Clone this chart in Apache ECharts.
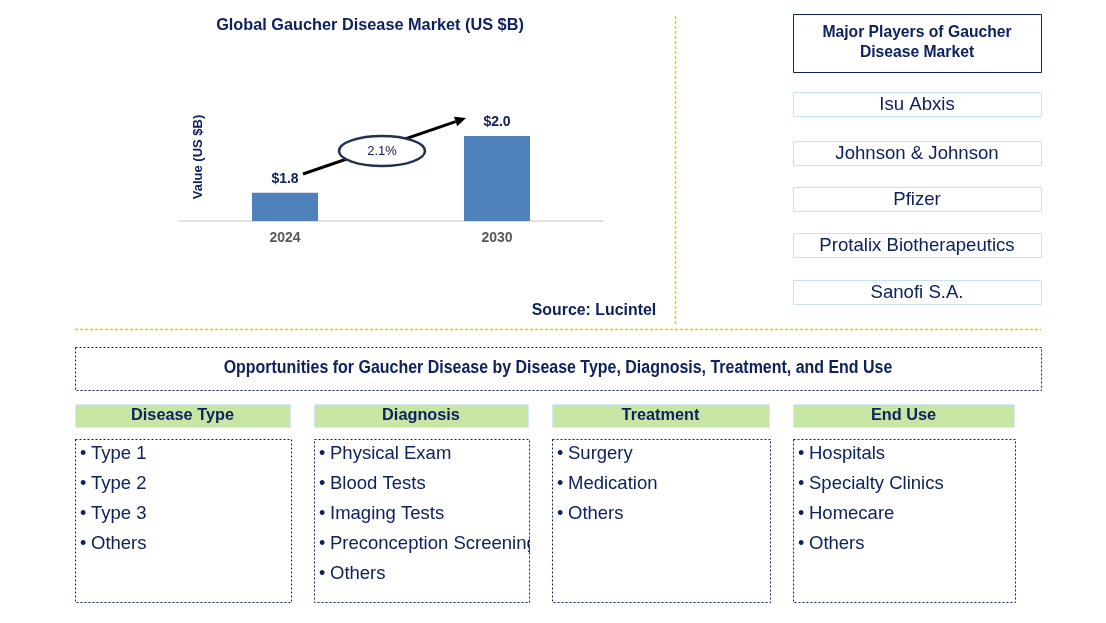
<!DOCTYPE html>
<html>
<head>
<meta charset="utf-8">
<script src="https://cdn.jsdelivr.net/npm/echarts@6/dist/echarts.min.js"></script>
<style>html,body{margin:0;padding:0;background:#fff}#c{width:1106px;height:623px}</style>
</head>
<body>
<div id="c"></div>
<script>
// ---- data ----
const years = ['2024', '2030'];
const marketValues = [1.8, 2.0];
const cagrLabel = '2.1%';
const chartTitle = 'Global Gaucher Disease Market (US $B)';
const yAxisName = 'Value (US $B)';
const sourceText = 'Source: Lucintel';
const playersTitle = ['Major Players of Gaucher', 'Disease Market'];
const players = ['Isu Abxis', 'Johnson & Johnson', 'Pfizer', 'Protalix Biotherapeutics', 'Sanofi S.A.'];
const opportunitiesTitle = 'Opportunities for Gaucher Disease by Disease Type, Diagnosis, Treatment, and End Use';
const segmentNames = ['Disease Type', 'Diagnosis', 'Treatment', 'End Use'];
const segDiseaseType = ['Type 1', 'Type 2', 'Type 3', 'Others'];
const segDiagnosis = ['Physical Exam', 'Blood Tests', 'Imaging Tests', 'Preconception Screening', 'Others'];
const segTreatment = ['Surgery', 'Medication', 'Others'];
const segEndUse = ['Hospitals', 'Specialty Clinics', 'Homecare', 'Others'];
const segItems = [segDiseaseType, segDiagnosis, segTreatment, segEndUse];

// ---- styles ----
const NAVY = '#0F2260';
const FONT = "'Liberation Sans', Arial, sans-serif";

const chart = echarts.init(document.getElementById('c'), null, {renderer: 'canvas'});

const g = [];
function txt(x, y, text, size, weight, color, align, extra) {
  g.push(Object.assign({
    type: 'text', x: x, y: y, silent: true,
    style: Object.assign({text: text, fontSize: size, fontWeight: weight, fill: color || NAVY,
      fontFamily: FONT, align: align || 'center', verticalAlign: 'middle'}, extra && extra.style || {})
  }, extra && extra.el || {}));
}
function rect(x, y, w, h, stroke, fill, dash) {
  g.push({type: 'rect', silent: true, shape: {x: x + 0.5, y: y + 0.5, width: w, height: h},
    style: {fill: fill || 'none', stroke: stroke || null, lineWidth: 1, lineDash: dash || null}});
}
function line(x1, y1, x2, y2, stroke, dash, w) {
  g.push({type: 'line', silent: true, shape: {x1: x1, y1: y1, x2: x2, y2: y2},
    style: {stroke: stroke, lineWidth: w || 1, lineDash: dash || null}});
}

// title & annotations
txt(370, 26, chartTitle, 16.3, 'bold');
txt(198, 157, yAxisName, 13, 'bold', NAVY, 'center', {el: {rotation: Math.PI / 2}});
txt(594, 311, sourceText, 15.9, 'bold');

// arrow
const ax1 = 303, ay1 = 174, ax2 = 466, ay2 = 118;
const ang = Math.atan2(ay2 - ay1, ax2 - ax1);
const hl = 11, hw = 5;
const bx = ax2 - hl * Math.cos(ang), by = ay2 - hl * Math.sin(ang);
line(ax1, ay1, bx, by, '#000', null, 3);
g.push({type: 'polygon', silent: true, shape: {points: [
  [ax2, ay2],
  [bx + hw * Math.sin(ang), by - hw * Math.cos(ang)],
  [bx - hw * Math.sin(ang), by + hw * Math.cos(ang)]]}, style: {fill: '#000'}});
g.push({type: 'ellipse', silent: true, shape: {cx: 382, cy: 151, rx: 43, ry: 15},
  style: {fill: '#fff', stroke: '#1F3350', lineWidth: 2.5}});
txt(382, 151, cagrLabel, 13, 'normal');

// separators
line(675.5, 16, 675.5, 326, '#FFC000', [3, 2], 1.5);
line(75, 329.5, 1041, 329.5, '#FFC000', [3, 2], 1.5);

// players
rect(793, 14, 248, 58, NAVY);
txt(917, 33, playersTitle[0], 15.7, 'bold');
txt(917, 53, playersTitle[1], 15.7, 'bold');
const pTops = [92, 141, 187, 233, 280];
players.forEach((p, i) => {
  rect(793, pTops[i], 248, 24, '#C5E2F5');
  txt(917, pTops[i] + 13, p, 18.6, 'normal');
});

// opportunities
rect(75, 347, 966, 43, NAVY, null, [2, 2]);
txt(558, 368, opportunitiesTitle, 18, 'bold', NAVY, 'center', {el: {scaleX: 0.887, originX: 0, originY: 0}});
const segX = [[75, 290], [314, 528], [552, 769], [793, 1014]];
segmentNames.forEach((s, i) => {
  const [x1, x2] = segX[i];
  rect(x1, 404, x2 - x1, 23, '#D5EAF7', '#C8E6A3');
  txt((x1 + x2) / 2, 415.5, s, 16.3, 'bold');
  segItems[i].forEach((it, j) => {
    const y = 454 + j * 30;
    txt(x1 + 5, y, '•', 18, 'normal', NAVY, 'left');
    txt(x1 + 16, y, it, 18.5, 'normal', NAVY, 'left');
  });
  // hide any overflow past the box edge
  rect(x2 + 1.5, 440, 20, 160, null, '#fff');
  rect(x1, 439, x2 - x1 + 1, 163, NAVY, null, [2, 2]);
});

chart.setOption({
  animation: false,
  backgroundColor: '#fff',
  grid: {left: 179, right: 503, top: 136, bottom: 402},
  xAxis: {
    type: 'category', data: years,
    axisLine: {lineStyle: {color: '#D9D9D9', width: 1.5}},
    axisTick: {show: false},
    axisLabel: {color: '#595959', fontSize: 14, fontWeight: 'bold', fontFamily: FONT, margin: 10}
  },
  yAxis: {type: 'value', min: 1.7, max: 2.0, show: false, splitLine: {show: false}},
  series: [{
    type: 'bar', data: marketValues, barWidth: 66,
    itemStyle: {color: '#4F81BD'},
    label: {show: true, position: 'top', distance: 7, color: NAVY, fontSize: 14, fontWeight: 'bold',
      fontFamily: FONT, formatter: p => '$' + p.value.toFixed(1)}
  }],
  graphic: g
});
</script>
</body>
</html>
